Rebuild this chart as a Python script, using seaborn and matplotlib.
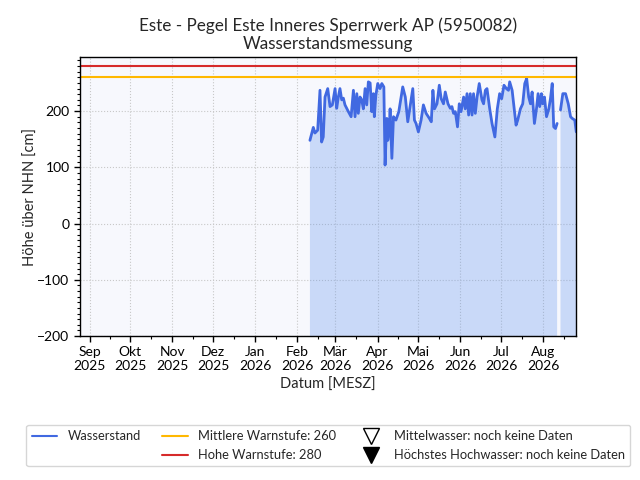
import numpy as np
import pandas as pd
import matplotlib
matplotlib.use("Agg")
import matplotlib.pyplot as plt
import matplotlib.dates as mdates
from matplotlib.lines import Line2D
from matplotlib.ticker import MultipleLocator
import seaborn as sns

# ---- data ----
start_date = "2026-02-01"
# day offsets from start_date of each reading (NaN value marks the data gap)
day_offsets = [
    9.2, 11.7, 12.9, 14.9, 16.6, 17.8, 19.0, 20.3, 22.3, 24.0, 25.7, 27.7, 28.9,
    30.1, 31.3, 32.6, 33.8, 35.0, 37.5, 39.5, 41.2, 42.4, 43.7, 44.8, 46.1, 47.3,
    48.5, 49.8, 51.0, 52.2, 53.5, 54.7, 55.9, 56.6, 57.7, 59.1, 60.8, 62.1, 63.6,
    64.5, 65.8, 66.5, 67.5, 68.2, 69.5, 70.7, 72.5, 74.6, 77.5, 79.4, 81.2, 82.9,
    84.9, 86.1, 87.3, 89.0, 91.0, 92.7, 94.7, 97.1, 98.5, 99.7, 100.9, 102.7,
    104.4, 105.8, 107.5, 108.8, 110.8, 112.5, 113.7, 114.9, 116.2, 117.8, 119.1,
    120.4, 122.3, 123.5, 124.8, 126.0, 127.2, 128.5, 129.6, 130.9, 132.2, 133.8,
    135.8, 137.0, 138.3, 139.5, 141.5, 143.2, 145.3, 147.1, 148.8, 150.3, 152.0,
    153.8, 155.3, 156.2, 158.0, 159.9, 160.9, 162.1, 164.1, 165.8, 167.3, 168.7,
    170.2, 171.5, 172.7, 174.4, 175.9, 177.1, 178.3, 179.6, 180.5, 181.8, 183.3,
    185.0, 186.2, 187.5, 188.6, 189.9, 191.1, 192.3, 193.6, 195.3, 197.3, 199.3,
    201.0, 202.2, 204.1, 205.2,
]
water_level = [
    148, 171, 161, 166, 237, 145, 154, 225, 240, 208, 211, 240, 205,
    225, 240, 220, 223, 211, 199, 190, 237, 190, 231, 196, 225, 220,
    204, 240, 211, 252, 250, 199, 231, 190, 228, 249, 240, 249, 243,
    104, 187, 148, 165, 204, 116, 190, 184, 199, 243, 225, 181, 208,
    240, 184, 178, 163, 184, 211, 196, 187, 181, 237, 204, 213,
    246, 222, 213, 234, 213, 205, 208, 196, 199, 172, 213,
    199, 225, 204, 231, 193, 231, 193, 231, 196, 225, 249,
    220, 213, 237, 240, 204, 178, 154, 204, 231, 222, 246,
    240, 237, 252, 237, 196, 175, 184, 204, 213, 249, 258,
    225, 213, 234, 178, 204, 231, 208, 231, 213, 225, 190,
    204, 222, 249, 172, 169, 178, np.nan, 202, 231, 231, 213,
    190, 187, 184, 163,
]
warn_mid = 260
warn_high = 280
x_start, x_end = "2025-08-25", "2026-08-25"
y_min, y_max = -200, 296
month_names = ["Jan", "Feb", "Mär", "Apr", "Mai", "Jun",
               "Jul", "Aug", "Sep", "Okt", "Nov", "Dez"]

# ---- build table ----
dates = pd.Timestamp(start_date) + pd.to_timedelta(day_offsets, unit="D")
df = pd.DataFrame({"Datum": dates, "Wasserstand": water_level})
df["segment"] = df["Wasserstand"].isna().cumsum()
line_df = df.dropna()

# ---- style ----
sns.set_style("ticks")
plt.rcParams["font.family"] = ["Lato", "DejaVu Sans"]
plt.rcParams["axes.edgecolor"] = "black"
plt.rcParams["xtick.color"] = "black"
plt.rcParams["ytick.color"] = "black"

line_color = "#4169e1"
fill_color = "#6495ed"
mid_color = "#ffb800"
high_color = "#d62a2a"

fig = plt.figure(figsize=(6.4, 4.8), dpi=100)
ax = fig.add_axes([0.125, 0.3, 0.775, 0.581])
ax.set_facecolor("#f7f8fd")

ax.fill_between(df["Datum"], df["Wasserstand"], y_min,
                color=fill_color, alpha=0.31, linewidth=0)
sns.lineplot(data=line_df, x="Datum", y="Wasserstand", units="segment",
             estimator=None, color=line_color, linewidth=2.0, ax=ax)
ax.axhline(warn_mid, color=mid_color, linewidth=1.5)
ax.axhline(warn_high, color=high_color, linewidth=1.5)

ax.set_xlim(pd.Timestamp(x_start), pd.Timestamp(x_end))
ax.set_ylim(y_min, y_max)

ax.xaxis.set_major_locator(mdates.MonthLocator())
ax.xaxis.set_minor_locator(mdates.MonthLocator(bymonthday=16))
ax.xaxis.set_major_formatter(
    plt.FuncFormatter(lambda v, p: "{}\n{}".format(
        month_names[mdates.num2date(v).month - 1], mdates.num2date(v).year)))
ax.yaxis.set_major_locator(MultipleLocator(100))
ax.yaxis.set_minor_locator(MultipleLocator(10))
ax.yaxis.set_major_formatter(plt.FuncFormatter(
    lambda v, p: ("\u2212%d" % -v) if v < 0 else "%d" % v))

ax.tick_params(axis="both", which="major", length=4, width=1, labelsize=10)
ax.tick_params(axis="both", which="minor", length=2.5, width=0.8)
ax.grid(True, which="major", linestyle=":", color="#c8c8c8", linewidth=0.8)
for s in ax.spines.values():
    s.set_visible(True)
    s.set_linewidth(1)

ax.set_xlabel("Datum [MESZ]", fontsize=10.5)
ax.set_ylabel("Höhe über NHN [cm]", fontsize=10.5, labelpad=0)
ax.set_title("Este - Pegel Este Inneres Sperrwerk AP (5950082)\nWasserstandsmessung",
             fontsize=12.3, linespacing=1.15)

handles = [
    Line2D([], [], color=line_color, linewidth=1.5),
    Line2D([], [], color="none"),
    Line2D([], [], color=mid_color, linewidth=1.5),
    Line2D([], [], color=high_color, linewidth=1.5),
    Line2D([], [], color="none", marker="v", markersize=11,
           markerfacecolor="white", markeredgecolor="black"),
    Line2D([], [], color="none", marker="v", markersize=11,
           markerfacecolor="black", markeredgecolor="black"),
]
labels = ["Wasserstand", "", "Mittlere Warnstufe: 260", "Hohe Warnstufe: 280",
          "Mittelwasser: noch keine Daten", "Höchstes Hochwasser: noch keine Daten"]
fig.legend(handles, labels, ncol=3, loc="lower center",
           bbox_to_anchor=(0.513, 0.015), fontsize=9.3, frameon=True,
           edgecolor="#cccccc", fancybox=True, columnspacing=1.65,
           labelspacing=0.55)

fig.savefig("out.png", dpi=100)
